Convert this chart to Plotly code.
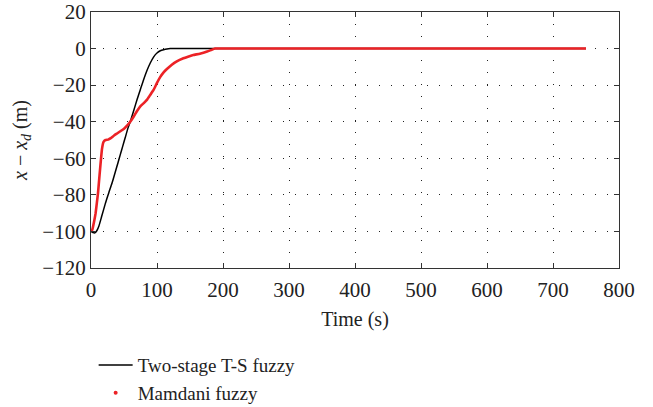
import plotly.graph_objects as go

# Two-stage T-S fuzzy (black line)
ts_t = [0, 3, 6, 9, 12, 16, 22, 27, 32, 37, 41, 44.4, 48, 52, 56, 59.5, 65, 69.7, 74.7, 79.7, 84.8, 89.8, 95, 100, 105, 110, 115, 120, 130, 200, 300, 400, 500, 600, 700, 750]
ts_y = [-100, -100.6, -100.8, -99.5, -97, -92, -84.4, -78.8, -73.4, -67.2, -62.3, -58, -53.5, -48.5, -43.5, -40, -33.6, -28, -22.5, -17, -12, -7.9, -4.5, -2.4, -1.2, -0.6, -0.2, 0, 0, 0, 0, 0, 0, 0, 0, 0]

# Mamdani fuzzy (red)
mf_t = [0, 2, 5, 7, 9, 10.6, 13, 16.6, 19, 22, 26, 30, 35, 40, 44.4, 50, 55, 59.5, 65, 70, 74.7, 80, 85, 90, 95, 100, 105, 110, 115, 122, 130, 140, 148, 155, 165, 176, 182, 188, 200, 300, 400, 500, 600, 700, 750]
mf_y = [-100, -99, -94, -90, -84, -79, -69, -55, -51, -50, -49.8, -49, -47.5, -46.3, -45.2, -43.8, -42, -40, -37, -34, -31.6, -29.8, -27.9, -25.2, -22.5, -18.8, -15.5, -13, -11.2, -9, -7, -5.3, -4.3, -3.5, -2.8, -1.6, -0.8, 0, 0, 0, 0, 0, 0, 0, 0]

x_ticks = [0, 100, 200, 300, 400, 500, 600, 700, 800]
y_ticks = [20, 0, -20, -40, -60, -80, -100, -120]

FONT = "Liberation Serif, Times New Roman, serif"
RED = "#ec2226"
TXT = "#222222"

fig = go.Figure()
fig.add_trace(go.Scatter(x=ts_t, y=ts_y, mode="lines", name="Two-stage T-S fuzzy",
                         line=dict(color="black", width=1.5, shape="spline", smoothing=0.5)))
fig.add_trace(go.Scatter(x=mf_t, y=mf_y, mode="lines", name="Mamdani fuzzy", showlegend=False,
                         line=dict(color=RED, width=2.6, shape="spline", smoothing=0.3)))
fig.add_trace(go.Scatter(x=[None], y=[None], mode="markers", name="Mamdani fuzzy",
                         marker=dict(color=RED, size=4)))

axis_common = dict(
    showline=True, linecolor="#333333", linewidth=1.2, mirror="ticks",
    ticks="inside", ticklen=5, tickcolor="#333333",
    showgrid=True, gridcolor="#222222", gridwidth=1, griddash="1px,11px",
    zeroline=False, tickfont=dict(family=FONT, size=21, color=TXT),
    automargin=False,
)

fig.update_xaxes(range=[0, 800], tickvals=x_ticks, ticktext=[str(v) for v in x_ticks],
                 ticklabelstandoff=3,
                 title=dict(text="Time (s)", font=dict(family=FONT, size=20, color=TXT), standoff=10),
                 **axis_common)
fig.update_yaxes(range=[-120, 20], tickvals=y_ticks,
                 ticktext=[("\u2212" + str(-v)) if v < 0 else str(v) for v in y_ticks],
                 title=dict(text="<i>x</i> \u2212 <i>x<sub>d</sub></i> (m)",
                            font=dict(family=FONT, size=20, color=TXT), standoff=9),
                 **axis_common)

fig.update_layout(
    width=653, height=407,
    margin=dict(l=91, r=34, t=12, b=139, autoexpand=False),
    plot_bgcolor="white", paper_bgcolor="white",
    font=dict(family=FONT, size=20, color=TXT),
    legend=dict(x=0.005, y=-0.305, xanchor="left", yanchor="top",
                font=dict(family=FONT, size=19, color=TXT),
                tracegroupgap=0, itemwidth=34, bgcolor="rgba(0,0,0,0)"),
)

fig.write_html("out.html", config={"displayModeBar": False},
               post_script="document.body.style.margin='0';")
